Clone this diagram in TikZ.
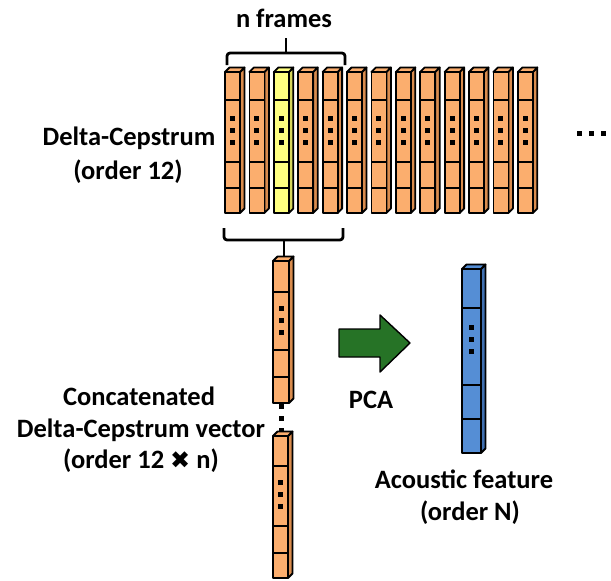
\documentclass[tikz,border=0pt]{standalone}
\usepackage{fontspec}
\setmainfont{Carlito}
\newfontfamily\symfont{DejaVu Sans}
\definecolor{orfill}{HTML}{FBAE6E}
\definecolor{orside}{HTML}{D98C4E}
\definecolor{yefill}{HTML}{FFFF80}
\definecolor{yeside}{HTML}{D5D55A}
\definecolor{blfill}{HTML}{558ED5}
\definecolor{blside}{HTML}{3F6FB0}
\definecolor{arrgreen}{HTML}{267326}
% #1 x left, #2 front top y, #3 bottom y, #4 width, #5 fill, #6 side, #7 dividers, #8 dot centre y
\newcommand{\vecbar}[8]{%
  \filldraw[fill=#6] (#1+#4,#2) -- (#1+#4+4.5,#2-4.5) -- (#1+#4+4.5,#3-4.5) -- (#1+#4,#3) -- cycle;
  \filldraw[fill=#5] (#1,#2) -- (#1+4.5,#2-4.5) -- (#1+#4+4.5,#2-4.5) -- (#1+#4,#2) -- cycle;
  \filldraw[fill=#5] (#1,#2) rectangle (#1+#4,#3);
  \foreach \yy in {#7} {\draw (#1,\yy) -- (#1+#4,\yy);}
  \foreach \kk in {-12,0,12} {\fill (#1+#4/2-2.5,#8+\kk-2.5) rectangle ++(5,5);}
}
\begin{document}
\begin{tikzpicture}[x=1pt,y=-1pt,line width=1.8pt,line join=round,
  lbl/.style={anchor=base,inner sep=0pt,font=\bfseries\fontsize{26.5}{30}\selectfont},
  brace/.style={line width=2.8pt,rounded corners=3pt}]
\useasboundingbox (0,0) rectangle (611,581);
% top row of frames
\foreach \i in {0,...,12} {
  \ifnum\i=2
    \vecbar{225+24.4*\i}{72}{213}{15}{yefill}{yeside}{100,162,188}{130}
  \else
    \vecbar{225+24.4*\i}{72}{213}{15}{orfill}{orside}{100,162,188}{130}
  \fi
}
\foreach \xx in {579,591,603} {\fill (\xx-2.5,133-2.5) rectangle ++(5,5);}
% braces
\draw[brace] (227,65) -- (227,53) -- (345,53) -- (345,65);
\draw[brace] (286,53) -- (286,38);
\draw[brace] (224,228) -- (224,240) -- (343,240) -- (343,228);
\draw[brace] (284,240) -- (284,257);
% concatenated vector
\vecbar{273}{261}{403}{16}{orfill}{orside}{292,350,377}{320}
\foreach \yy in {406,418,430} {\fill (281-2.5,\yy-2.5) rectangle ++(5,5);}
\vecbar{273}{436}{578}{15}{orfill}{orside}{466,526,553}{494}
% PCA arrow
\filldraw[fill=arrgreen,line width=1.4pt] (339,329) -- (380,329) -- (380,315) -- (410,343) -- (380,372) -- (380,357) -- (339,357) -- cycle;
% acoustic feature vector
\vecbar{462}{269}{453}{19}{blfill}{blside}{308,385,419}{339}
% labels
\node[lbl] (nf) at (284,27) {n frames};
\node[lbl] (dc1) at (129,145) {Delta-Cepstrum};
\node[lbl] (dc2) at (128,179) {(order 12)};
\node[lbl] (cc1) at (139,405) {Concatenated};
\node[lbl] (cc2) at (141,437) {Delta-Cepstrum vector};
\node[lbl] (cc3) at (141,468) {(order 12 {\symfont\fontsize{24}{24}\selectfont ✖} n)};
\node[lbl] (pca) at (371,408) {PCA};
\node[lbl] (af1) at (464,488) {Acoustic feature};
\node[lbl] (af2) at (470,520) {(order N)};
\end{tikzpicture}
\end{document}
